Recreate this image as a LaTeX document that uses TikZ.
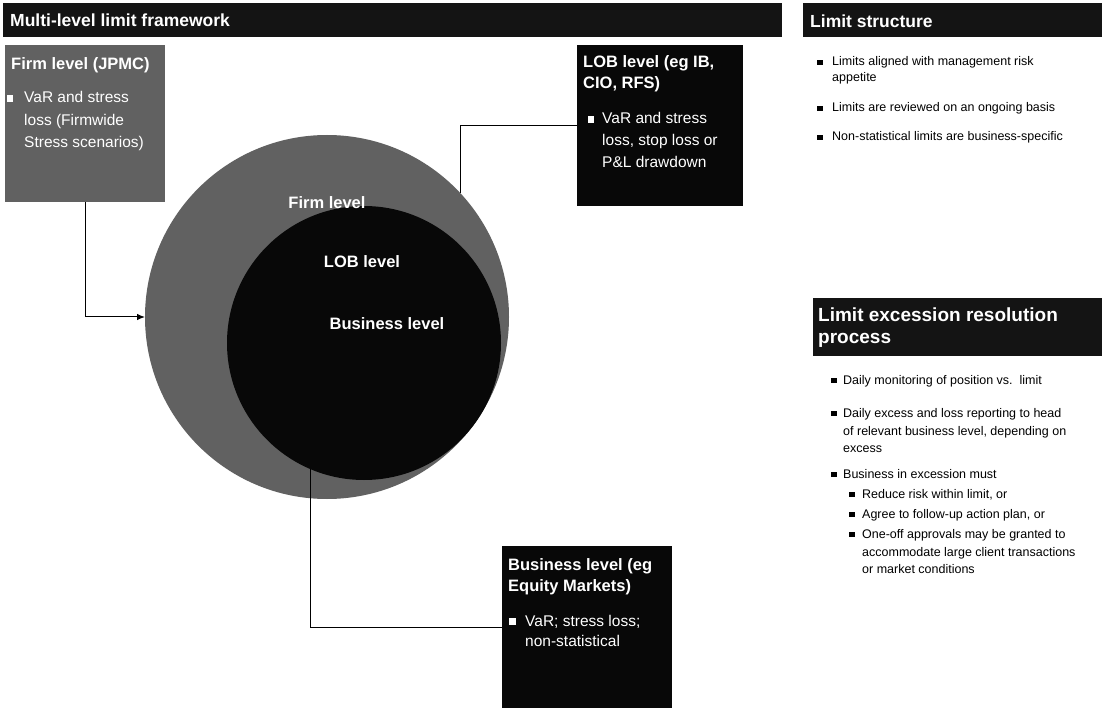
\documentclass[tikz,border=0pt]{standalone}
\usepackage{fontspec}
\setmainfont{Liberation Sans}
\usetikzlibrary{arrows.meta}
\definecolor{dith}{gray}{0.38}
\definecolor{barcol}{gray}{0.08}
\definecolor{boxcol}{gray}{0.03}
\tikzset{
  panel/.style={anchor=north west, inner sep=0pt, outer sep=0pt},
  htext/.style={anchor=base west, inner sep=0pt, text=white, font=\bfseries\fontsize{17.5}{20}\selectfont},
  btitle/.style={anchor=base west, inner sep=0pt, text=white, font=\bfseries\fontsize{16.5}{20}\selectfont},
  btext/.style={anchor=base west, inner sep=0pt, text=white, font=\fontsize{15.5}{20}\selectfont},
  bsq/.style={fill=white, draw=none, minimum size=6.5pt, inner sep=0pt},
  stext/.style={anchor=base west, inner sep=0pt, text=black, font=\fontsize{12.5}{14}\selectfont},
  ssq/.style={fill=black, draw=none, minimum size=5.8pt, inner sep=0pt},
  ctext/.style={anchor=base, inner sep=0pt, text=white, font=\bfseries\fontsize{16.5}{20}\selectfont},
  conn/.style={draw=black, line width=1pt},
}
\begin{document}
\begin{tikzpicture}[x=1pt,y=-1pt]
\useasboundingbox[fill=white] (0,0) rectangle (1103,711);

% header bars
\node[panel, fill=barcol, minimum width=779pt, minimum height=34pt] (bar1) at (3,3) {};
\node[htext] (bar1t) at (10,27) {Multi-level limit framework};
\node[panel, fill=barcol, minimum width=299pt, minimum height=34pt] (bar2) at (803,3) {};
\node[htext] (bar2t) at (810,28) {Limit structure};
\node[panel, fill=barcol, minimum width=289pt, minimum height=58pt] (bar3) at (813,298) {};
\node[htext, font=\bfseries\fontsize{19}{22}\selectfont] (bar3a) at (818,321) {Limit excession resolution};
\node[htext, font=\bfseries\fontsize{19}{22}\selectfont] (bar3b) at (818,343) {process};

% circles
\node[circle, fill=dith, minimum size=364pt, inner sep=0pt, outer sep=0pt] (outer) at (327,317) {};
\node[circle, fill=boxcol, minimum size=274pt, inner sep=0pt, outer sep=0pt] (inner) at (364,343) {};
\node[ctext] (cfirm) at (327,209) {Firm level};
\node[ctext] (clob) at (362,268) {LOB level};
\node[ctext] (cbiz) at (387,330) {Business level};

% firm box
\node[panel, fill=dith, minimum width=160pt, minimum height=157pt] (fbox) at (5,45) {};
\node[btitle] (ft) at (11,70) {Firm level (JPMC)};
\node[bsq] (fsq) at (10,98.5) {};
\node[btext] (f1) at (24,103) {VaR and stress};
\node[btext] (f2) at (24,126) {loss (Firmwide};
\node[btext] (f3) at (24,148) {Stress scenarios)};

% LOB box
\node[panel, fill=boxcol, minimum width=166pt, minimum height=161pt] (lob) at (577,45) {};
\node[btitle] (lt1) at (583,68) {LOB level (eg IB,};
\node[btitle] (lt2) at (583,89) {CIO, RFS)};
\node[bsq] (lsq) at (591,119.5) {};
\node[btext] (l1) at (602,124) {VaR and stress};
\node[btext] (l2) at (602,146) {loss, stop loss or};
\node[btext] (l3) at (602,168) {P\&L drawdown};

% Business box
\node[panel, fill=boxcol, minimum width=170pt, minimum height=162pt] (biz) at (502,546) {};
\node[btitle] (bt1) at (508,570) {Business level (eg};
\node[btitle] (bt2) at (508,591) {Equity Markets)};
\node[bsq] (bsq1) at (512.5,621.5) {};
\node[btext] (b1) at (525,626) {VaR; stress loss;};
\node[btext] (b2) at (525,646) {non-statistical};

% connectors
\draw[conn, -{Latex[length=8pt,width=6.5pt]}] (fbox.south) |- (outer.west);
\draw[conn] (lob.west) -| (outer.43.4);
\draw[conn] (biz.west) -| (inner.247.7);

% Limit structure list
\node[ssq] (s1q) at (820,62.5) {};
\node[stext] (s1a) at (832,66) {Limits aligned with management risk};
\node[stext] (s1b) at (832,82) {appetite};
\node[ssq] (s2q) at (820,108.5) {};
\node[stext] (s2a) at (832,112) {Limits are reviewed on an ongoing basis};
\node[ssq] (s3q) at (820,137.5) {};
\node[stext] (s3a) at (832,141) {Non-statistical limits are business-specific};

% Excession list
\node[ssq] (e1q) at (834,380.5) {};
\node[stext] (e1a) at (843,384) {Daily monitoring of position vs.\ \ limit};
\node[ssq] (e2q) at (834,413.5) {};
\node[stext] (e2a) at (843,417) {Daily excess and loss reporting to head};
\node[stext] (e2b) at (843,435) {of relevant business level, depending on};
\node[stext] (e2c) at (843,452) {excess};
\node[ssq] (e3q) at (834,474.5) {};
\node[stext] (e3a) at (843,478) {Business in excession must};
\node[ssq] (e4q) at (852,494.5) {};
\node[stext] (e4a) at (862,498) {Reduce risk within limit, or};
\node[ssq] (e5q) at (852,514.5) {};
\node[stext] (e5a) at (862,518) {Agree to follow-up action plan, or};
\node[ssq] (e6q) at (852,534.5) {};
\node[stext] (e6a) at (862,538) {One-off approvals may be granted to};
\node[stext] (e6b) at (862,556) {accommodate large client transactions};
\node[stext] (e6c) at (862,573) {or market conditions};
\end{tikzpicture}
\end{document}
